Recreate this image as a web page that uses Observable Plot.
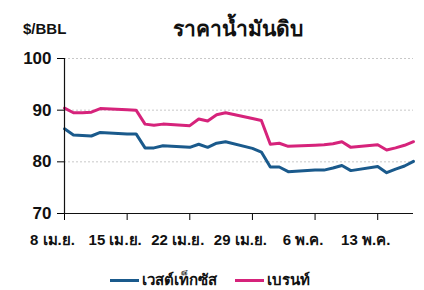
<!DOCTYPE html>
<html>
<head>
<meta charset="utf-8">
<script src="https://cdn.jsdelivr.net/npm/d3@7"></script>
<script src="https://cdn.jsdelivr.net/npm/@observablehq/plot@0.6"></script>
<style>
  html, body { margin: 0; padding: 0; background: #fff; }
  #wrap { position: relative; width: 424px; height: 290px; overflow: hidden; font-family: "Liberation Sans", Arial, sans-serif; }
  #wrap svg { position: absolute; left: 0; top: 0; }
  .abs { position: absolute; white-space: nowrap; font-weight: bold; color: #111; }
  #unit { left: 23px; top: 20px; font-size: 15px; }
  #title { left: 0; width: 476px; text-align: center; top: 12px; font-size: 21px; }
  #legend { left: 110px; top: 268px; font-size: 15px; display: flex; align-items: center; }
  .sw { display: inline-block; width: 29px; height: 3px; margin-right: 3px; }
</style>
</head>
<body>
<div id="wrap">
  <div id="unit" class="abs">$/BBL</div>
  <div id="title" class="abs">ราคาน้ำมันดิบ</div>
  <div id="legend" class="abs"></div>
</div>
<script>
const dates = ["2024-04-08","2024-04-09","2024-04-10","2024-04-11","2024-04-12",
  "2024-04-15","2024-04-16","2024-04-17","2024-04-18","2024-04-19",
  "2024-04-22","2024-04-23","2024-04-24","2024-04-25","2024-04-26",
  "2024-04-29","2024-04-30","2024-05-01","2024-05-02","2024-05-03",
  "2024-05-06","2024-05-07","2024-05-08","2024-05-09","2024-05-10",
  "2024-05-13","2024-05-14","2024-05-15","2024-05-16","2024-05-17"];
const wti = [86.4,85.2,85.1,85.0,85.7,
  85.4,85.4,82.7,82.7,83.1,
  82.8,83.4,82.8,83.6,83.9,
  82.6,81.9,79.0,79.0,78.1,
  78.4,78.4,78.8,79.3,78.3,
  79.1,77.9,78.6,79.2,80.1];
const brent = [90.4,89.5,89.5,89.6,90.3,
  90.1,90.0,87.3,87.1,87.3,
  87.0,88.3,87.9,89.1,89.5,
  88.4,88.0,83.4,83.6,83.0,
  83.2,83.3,83.5,83.9,82.8,
  83.3,82.3,82.7,83.2,83.9];
const seriesNames = ["เวสต์เท็กซัส", "เบรนท์"];
const seriesColors = ["#1a5a8c", "#d6237b"];
const xTickDates = ["2024-04-08","2024-04-15","2024-04-22","2024-04-29","2024-05-06","2024-05-13"];
const xTickLabels = ["8 เม.ย.","15 เม.ย.","22 เม.ย.","29 เม.ย.","6 พ.ค.","13 พ.ค."];
const yTicks = [70, 80, 90, 100];
const yGrid = [80, 90, 100];

const parse = s => new Date(s + "T00:00:00Z");
const rows = [];
dates.forEach((d, i) => {
  rows.push({date: parse(d), value: wti[i], series: seriesNames[0]});
  rows.push({date: parse(d), value: brent[i], series: seriesNames[1]});
});
const ticks = xTickDates.map((d, i) => ({date: parse(d), label: xTickLabels[i]}));
const xDomain = [parse(dates[0]), parse(dates[dates.length - 1])];

const font = "'Liberation Sans', Arial, sans-serif";
const chart = Plot.plot({
  width: 424,
  height: 290,
  marginLeft: 64,
  marginRight: 11,
  marginTop: 58,
  marginBottom: 77,
  style: {fontFamily: font, background: "transparent", overflow: "visible"},
  x: {type: "utc", domain: xDomain},
  y: {domain: [70, 100]},
  color: {domain: seriesNames, range: seriesColors},
  marks: [
    Plot.ruleY(yGrid, {stroke: "#c8c8c8", strokeDasharray: "2,2", strokeWidth: 1}),
    Plot.axisY({ticks: yTicks, tickSize: 7, tickPadding: 6, fontSize: 17, fontWeight: "bold", fill: "#111", label: null}),
    Plot.axisX({ticks: ticks.map(t => t.date), tickSize: 7, tickFormat: () => "", label: null}),
    Plot.text(ticks, {x: "date", frameAnchor: "bottom", text: "label", dy: 31, dx: -12, fontSize: 15, fontWeight: "bold", fill: "#111"}),
    Plot.lineY(rows, {x: "date", y: "value", stroke: "series", strokeWidth: 3, strokeLinejoin: "round"}),
    Plot.ruleX([xDomain[0]], {stroke: "#111", strokeWidth: 1.2}),
    Plot.ruleY([70], {stroke: "#111", strokeWidth: 1.2})
  ]
});
document.getElementById("wrap").prepend(chart);

const legend = document.getElementById("legend");
seriesNames.forEach((n, i) => {
  const item = document.createElement("span");
  item.style.display = "inline-flex";
  item.style.alignItems = "center";
  item.style.marginRight = i === 0 ? "18px" : "0";
  const sw = document.createElement("span");
  sw.className = "sw";
  sw.style.background = seriesColors[i];
  item.appendChild(sw);
  item.appendChild(document.createTextNode(n));
  legend.appendChild(item);
});
</script>
</body>
</html>
